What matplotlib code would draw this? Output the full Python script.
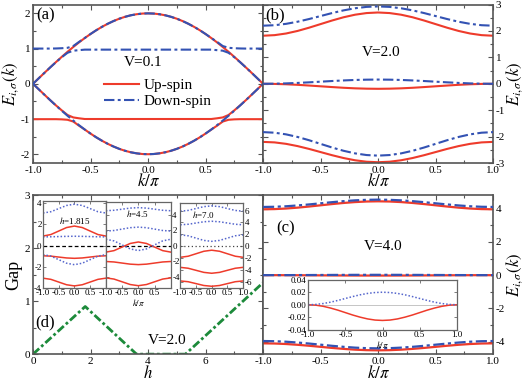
import numpy as np
import matplotlib
matplotlib.use('Agg')
import matplotlib.pyplot as plt
from matplotlib.ticker import AutoMinorLocator, FixedLocator, FixedFormatter
from matplotlib.lines import Line2D

plt.rcParams['font.family'] = ['Liberation Serif', 'DejaVu Serif']
plt.rcParams['mathtext.fontset'] = 'stix'
plt.rcParams['axes.unicode_minus'] = False

RED = '#ee3b2b'
BLUE = '#3352b3'
LBLUE = '#5566cc'
GREEN = '#1c8a3a'
SPINE = '#555555'

# ---------------- data (k >= 0 half, mirrored about k = 0) ----------------
k_a = [0.00, 0.05, 0.10, 0.15, 0.20, 0.25, 0.30, 0.35, 0.40, 0.45, 0.50,
       0.55, 0.60, 0.65, 0.70, 0.75, 0.80, 0.85, 0.90, 0.95, 1.00]
a_up_top = [2.000, 1.994, 1.975, 1.945, 1.902, 1.848, 1.782, 1.705, 1.618, 1.521, 1.414,
            1.299, 1.176, 1.045, 0.908, 0.765, 0.618, 0.467, 0.313, 0.157, 0.000]
a_up_mid = [-1.00, -1.00, -1.00, -1.00, -1.00, -1.00, -1.00, -1.00, -1.00, -1.00, -1.00,
            -1.00, -0.98, -0.955, -0.886, -0.755, -0.615, -0.467, -0.313, -0.157, 0.000]
a_up_low = [-2.000, -1.994, -1.975, -1.945, -1.902, -1.848, -1.782, -1.705, -1.618, -1.521, -1.414,
            -1.300, -1.19, -1.072, -1.022, -1.010, -1.005, -1.005, -1.005, -1.005, -1.005]
a_dn_top = [2.000, 1.994, 1.975, 1.945, 1.902, 1.848, 1.782, 1.705, 1.618, 1.521, 1.414,
            1.300, 1.19, 1.072, 1.022, 1.010, 1.003, 1.000, 1.000, 1.000, 1.000]
a_dn_mid = [0.97, 0.97, 0.97, 0.97, 0.97, 0.97, 0.97, 0.97, 0.97, 0.97, 0.97,
            0.97, 0.955, 0.94, 0.88, 0.755, 0.615, 0.467, 0.313, 0.157, 0.000]
a_dn_low = [-2.000, -1.994, -1.975, -1.945, -1.902, -1.848, -1.782, -1.705, -1.618, -1.521, -1.414,
            -1.299, -1.176, -1.045, -0.908, -0.765, -0.618, -0.467, -0.313, -0.157, 0.000]

k_b = [0.0, 0.1, 0.2, 0.3, 0.4, 0.5, 0.6, 0.7, 0.8, 0.9, 1.0]
b_up_top = [2.70, 2.678, 2.616, 2.519, 2.396, 2.26, 2.124, 2.001, 1.904, 1.842, 1.82]
b_up_mid = [-0.19, -0.185, -0.172, -0.151, -0.124, -0.095, -0.066, -0.039, -0.018, -0.005, 0.0]
b_up_low = [-2.97, -2.951, -2.896, -2.811, -2.704, -2.585, -2.466, -2.359, -2.274, -2.219, -2.20]
b_dn_top = [2.93, 2.912, 2.860, 2.780, 2.678, 2.565, 2.452, 2.350, 2.270, 2.218, 2.20]
b_dn_mid = [0.16, 0.156, 0.145, 0.127, 0.105, 0.08, 0.055, 0.033, 0.015, 0.004, 0.0]
b_dn_low = [-2.72, -2.698, -2.635, -2.537, -2.413, -2.275, -2.137, -2.013, -1.915, -1.852, -1.83]

k_c = [0.0, 0.1, 0.2, 0.3, 0.4, 0.5, 0.6, 0.7, 0.8, 0.9, 1.0]
c_up_top = [4.44, 4.428, 4.394, 4.341, 4.274, 4.20, 4.126, 4.059, 4.006, 3.972, 3.96]
c_up_mid = [-0.025, -0.0244, -0.0226, -0.0198, -0.0164, -0.0125, -0.0086, -0.0052, -0.0024, -0.0006, 0.0]
c_up_low = [-4.52, -4.510, -4.480, -4.433, -4.375, -4.31, -4.245, -4.187, -4.140, -4.110, -4.10]
c_dn_top = [4.54, 4.529, 4.498, 4.449, 4.388, 4.32, 4.252, 4.191, 4.142, 4.111, 4.10]
c_dn_mid = [0.02, 0.0195, 0.0181, 0.0159, 0.0131, 0.01, 0.0069, 0.0041, 0.0019, 0.0005, 0.0]
c_dn_low = [-4.40, -4.389, -4.358, -4.309, -4.248, -4.18, -4.112, -4.051, -4.002, -3.971, -3.96]

# panel (d) gap vs h
h_vals = [0.0, 1.815, 3.6, 5.3, 8.0]
gap_vals = [0.0, 0.9, 0.0, 0.0, 1.35]

# insets of (d): half k grid
k_in = [0.0, 0.25, 0.5, 0.75, 1.0]
in1_up = [[1.84, 1.70, 1.37, 1.04, 0.90],
          [-1.20, -1.165, -1.08, -0.995, -0.96],
          [-3.80, -3.69, -3.435, -3.18, -3.07]]
in1_dn = [[3.90, 3.78, 3.485, 3.19, 3.07],
          [0.88, 0.87, 0.85, 0.83, 0.82],
          [-1.80, -1.66, -1.325, -0.99, -0.85]]
in2_up = [[0.50, 0.31, -0.15, -0.61, -0.80],
          [-2.40, -2.34, -2.20, -2.06, -2.00],
          [-5.10, -4.95, -4.60, -4.25, -4.10]]
in2_dn = [[4.90, 4.84, 4.70, 4.56, 4.50],
          [2.40, 2.33, 2.15, 1.97, 1.90],
          [-0.60, -0.39, 0.125, 0.64, 0.85]]
in3_up = [[-0.70, -0.88, -1.30, -1.72, -1.90],
          [-4.60, -4.45, -4.10, -3.75, -3.60],
          [-6.80, -6.67, -6.35, -6.03, -5.90]]
in3_dn = [[6.80, 6.67, 6.35, 6.03, 5.90],
          [4.20, 4.11, 3.90, 3.69, 3.60],
          [0.80, 0.96, 1.35, 1.74, 1.90]]


def kfull(h):
    h = np.asarray(h, float)
    return np.concatenate([-h[:0:-1], h])


def vfull(h):
    h = np.asarray(h, float)
    return np.concatenate([h[:0:-1], h])


DASHDOT = (0, (5, 1.6, 1.4, 1.6))


def style(ax, fs=8, length=3.5):
    for s in ax.spines.values():
        s.set_color(SPINE)
        s.set_linewidth(1.2)
    ax.tick_params(which='both', direction='in', top=True, right=True,
                   colors=SPINE, labelcolor='black', labelsize=fs, width=0.8, pad=2)
    ax.tick_params(which='major', length=length)
    ax.tick_params(which='minor', length=length * 0.55)


fig = plt.figure(figsize=(5.24, 3.80), dpi=100)

# ---------------- (a) ----------------
ax_a = fig.add_axes([0.063, 0.571, 0.439, 0.417])
ka = kfull(k_a)
for ser in (a_up_top, a_up_mid, a_up_low):
    ax_a.plot(ka, vfull(ser), color=RED, lw=1.5, zorder=2)
for ser in (a_dn_top, a_dn_mid, a_dn_low):
    ax_a.plot(ka, vfull(ser), color=BLUE, lw=1.5, ls=DASHDOT, zorder=3)
ax_a.set_xlim(-1, 1)
ax_a.set_ylim(-2.25, 2.25)
ax_a.xaxis.set_major_locator(FixedLocator([-1, -0.5, 0, 0.5, 1]))
ax_a.xaxis.set_major_formatter(FixedFormatter(['-1.0', '-0.5', '0.0', '0.5', '']))
ax_a.set_yticks([-2, -1, 0, 1, 2])
ax_a.xaxis.set_minor_locator(AutoMinorLocator(2))
ax_a.yaxis.set_minor_locator(AutoMinorLocator(2))
style(ax_a)
ax_a.set_xlabel(r'$k/\pi$', fontsize=12, labelpad=-1)
ax_a.set_ylabel(r'$E_{i,\sigma}(k)$', fontsize=12, labelpad=0)
ax_a.text(0.015, 0.93, '(a)', transform=ax_a.transAxes, fontsize=12, va='center', ha='left')
ax_a.text(-0.04, 0.6, 'V=0.1', fontsize=11, ha='center', va='center')
h1 = Line2D([], [], color=RED, lw=1.5)
h2 = Line2D([], [], color=BLUE, lw=1.5, ls=DASHDOT)
ax_a.legend([h1, h2], ['Up-spin', 'Down-spin'], loc='center left',
            bbox_to_anchor=(0.26, 0.44), frameon=False, fontsize=11,
            handlelength=2.3, handletextpad=0.3, labelspacing=0.15, borderpad=0.2)

# ---------------- (b) ----------------
ax_b = fig.add_axes([0.502, 0.571, 0.439, 0.417])
kb = kfull(k_b)
for ser in (b_up_top, b_up_mid, b_up_low):
    ax_b.plot(kb, vfull(ser), color=RED, lw=1.5, zorder=2)
for ser in (b_dn_top, b_dn_mid, b_dn_low):
    ax_b.plot(kb, vfull(ser), color=BLUE, lw=1.5, ls=DASHDOT, zorder=3)
ax_b.set_xlim(-1, 1)
ax_b.set_ylim(-3, 3)
ax_b.set_xticks([-1, -0.5, 0, 0.5, 1])
ax_b.set_xticklabels(['-1.0', '-0.5', '0.0', '0.5', '1.0'])
ax_b.set_yticks([-3, -2, -1, 0, 1, 2, 3])
ax_b.xaxis.set_minor_locator(AutoMinorLocator(2))
ax_b.yaxis.set_minor_locator(AutoMinorLocator(2))
style(ax_b)
ax_b.tick_params(labelleft=False, labelright=True)
ax_b.yaxis.set_label_position('right')
ax_b.set_xlabel(r'$k/\pi$', fontsize=12, labelpad=-1)
ax_b.set_ylabel(r'$E_{i,\sigma}(k)$', fontsize=12, labelpad=-1)
ax_b.text(0.01, 0.93, '(b)', transform=ax_b.transAxes, fontsize=12, va='center', ha='left')
ax_b.text(0.03, 1.17, 'V=2.0', fontsize=11, ha='center', va='center')

# ---------------- (d) ----------------
ax_d = fig.add_axes([0.063, 0.068, 0.439, 0.418])
ax_d.plot(h_vals, gap_vals, color=GREEN, lw=2.0, ls=(0, (3, 1, 1, 1)))
ax_d.set_xlim(0, 8)
ax_d.set_ylim(0, 3)
ax_d.xaxis.set_major_locator(FixedLocator([0, 2, 4, 6, 8]))
ax_d.xaxis.set_major_formatter(FixedFormatter(['0', '2', '4', '6', '']))
ax_d.set_yticks([0, 1, 2, 3])
ax_d.xaxis.set_minor_locator(AutoMinorLocator(2))
ax_d.yaxis.set_minor_locator(AutoMinorLocator(2))
style(ax_d)
ax_d.set_xlabel(r'$h$', fontsize=12, labelpad=-1)
ax_d.set_ylabel('Gap', fontsize=13, labelpad=2)
ax_d.text(0.052, 0.20, '(d)', transform=ax_d.transAxes, fontsize=12, va='center', ha='center')
ax_d.text(4.68, 0.26, 'V=2.0', fontsize=11, ha='center', va='center')

# insets of (d)
kin = kfull(k_in)
ins_specs = [
    ([0.082, 0.242, 0.120, 0.229], in1_up, in1_dn, (-4.0, 4.2), [-4, -2, 0, 2, 4],
     ['-1.0', '-0.5', '0.0', '0.5', ''], 'left', r'$h$=1.815', (0.51, 0.78), 'dash'),
    ([0.202, 0.242, 0.124, 0.226], in2_up, in2_dn, (-5.4, 5.6), [-4, -2, 0, 2, 4],
     ['-1.0', '-0.5', '0.0', '0.5', ''], 'right', r'$h$=4.5', (0.48, 0.87), 'dash'),
    ([0.344, 0.242, 0.120, 0.224], in3_up, in3_dn, (-7.1, 7.3), [-6, -4, -2, 0, 2, 4, 6],
     ['-1.0', '-0.5', '0.0', '0.5', '1.0'], 'right', r'$h$=7.0', (0.37, 0.86), 'dot'),
]
for i, (rect, ups, dns, ylim, yt, xl, side, lab, pos, zst) in enumerate(ins_specs):
    axi = fig.add_axes(rect)
    axi.set_facecolor('white')
    if zst == 'dash':
        axi.axhline(0, color='black', lw=0.9, ls=(0, (3, 2)))
    else:
        axi.axhline(0, color='#444444', lw=0.9, ls=(0, (1, 2)))
    for ser in ups:
        axi.plot(kin, vfull(ser), color=RED, lw=1.1)
    for ser in dns:
        axi.plot(kin, vfull(ser), color=LBLUE, lw=1.1, ls=(0, (1, 1.3)))
    axi.set_xlim(-1, 1)
    axi.set_ylim(*ylim)
    axi.xaxis.set_major_locator(FixedLocator([-1, -0.5, 0, 0.5, 1]))
    axi.xaxis.set_major_formatter(FixedFormatter(xl))
    axi.set_yticks(yt)
    for s in axi.spines.values():
        s.set_color('#666666')
        s.set_linewidth(0.9)
    axi.tick_params(which='both', direction='in', top=True, right=True, length=2,
                    width=0.6, colors='#666666', labelcolor='black', labelsize=6.5, pad=1)
    if side == 'right':
        axi.tick_params(labelleft=False, labelright=True)
    axi.text(pos[0], pos[1], lab, transform=axi.transAxes, fontsize=6.5,
             ha='center', va='center')
    if i == 1:
        axi.set_xlabel(r'$k/\pi$', fontsize=6.5, labelpad=0)

# ---------------- (c) ----------------
ax_c = fig.add_axes([0.502, 0.068, 0.439, 0.418])
kc = kfull(k_c)
for ser in (c_up_top, c_up_mid, c_up_low):
    ax_c.plot(kc, vfull(ser), color=RED, lw=1.6, zorder=2)
for ser in (c_dn_top, c_dn_mid, c_dn_low):
    ax_c.plot(kc, vfull(ser), color=BLUE, lw=1.6, ls=DASHDOT, zorder=3)
ax_c.set_xlim(-1, 1)
ax_c.set_ylim(-4.75, 4.8)
ax_c.set_xticks([-1, -0.5, 0, 0.5, 1])
ax_c.set_xticklabels(['-1.0', '-0.5', '0.0', '0.5', '1.0'])
ax_c.set_yticks([-4, -2, 0, 2, 4])
ax_c.xaxis.set_minor_locator(AutoMinorLocator(2))
ax_c.yaxis.set_minor_locator(AutoMinorLocator(2))
style(ax_c)
ax_c.tick_params(labelleft=False, labelright=True)
ax_c.yaxis.set_label_position('right')
ax_c.set_xlabel(r'$k/\pi$', fontsize=12, labelpad=-1)
ax_c.set_ylabel(r'$E_{i,\sigma}(k)$', fontsize=12, labelpad=-1)
ax_c.text(0.10, 0.79, '(c)', transform=ax_c.transAxes, fontsize=12, va='center', ha='center')
ax_c.text(0.04, 1.7, 'V=4.0', fontsize=11, ha='center', va='center')

# inset of (c)
axci = fig.add_axes([0.588, 0.132, 0.284, 0.132])
axci.axhline(0, color='#bbbbbb', lw=0.6)
axci.plot(kc, vfull(c_up_mid), color=RED, lw=1.1)
axci.plot(kc, vfull(c_dn_mid), color=LBLUE, lw=1.1, ls=(0, (1, 1.3)))
axci.set_xlim(-1, 1)
axci.set_ylim(-0.04, 0.04)
axci.set_xticks([-1, -0.5, 0, 0.5, 1])
axci.set_xticklabels(['-1.0', '-0.5', '0.0', '0.5', '1.0'])
axci.set_yticks([-0.04, -0.02, 0.0, 0.02, 0.04])
axci.set_yticklabels(['-0.04', '-0.02', '0.00', '0.02', '0.04'])
for s in axci.spines.values():
    s.set_color('#666666')
    s.set_linewidth(0.9)
axci.tick_params(which='both', direction='in', top=True, right=True, length=2,
                 width=0.6, colors='#666666', labelcolor='black', labelsize=6.5, pad=1)
axci.set_xlabel(r'$k/\pi$', fontsize=6.5, labelpad=0)

fig.savefig('out.png', dpi=100)
